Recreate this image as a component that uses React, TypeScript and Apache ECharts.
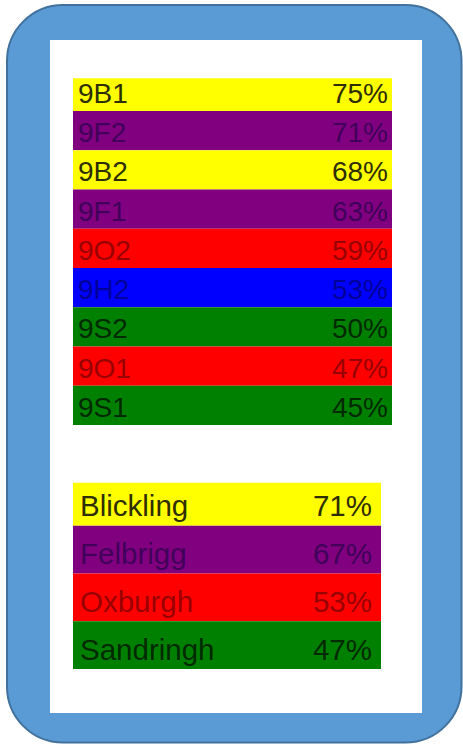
import React, { useEffect, useRef } from "react";
import * as echarts from "echarts";

// ---- data ----
const classNames = ["9B1", "9F2", "9B2", "9F1", "9O2", "9H2", "9S2", "9O1", "9S1"];
const classPercent = [75, 71, 68, 63, 59, 53, 50, 47, 45];
const classColorKeys = ["yellow", "purple", "yellow", "purple", "red", "blue", "green", "red", "green"];

const houseNames = ["Blickling", "Felbrigg", "Oxburgh", "Sandringham"];
const housePercent = [71, 67, 53, 47];
const houseColorKeys = ["yellow", "purple", "red", "green"];

// ---- styles ----
const fillColors: Record<string, string> = {
  yellow: "#FFFF00",
  purple: "#800080",
  red: "#FF0000",
  blue: "#0000FF",
  green: "#008000",
};
const textColors: Record<string, string> = {
  yellow: "#2e2e00",
  purple: "#42005a",
  red: "#9a0000",
  blue: "#00009a",
  green: "#002a00",
};

const FONT = "'Liberation Sans', Arial, sans-serif";

function tableSeries(
  gridIndex: number,
  names: string[],
  pct: number[],
  keys: string[],
  fontSize: number,
  leftPad: number,
  rightPad: number,
  dy: number,
  nameWidth: number
) {
  const fill = names.map((n, i) => ({
    name: n,
    value: 1,
    itemStyle: { color: fillColors[keys[i]] },
    label: { color: textColors[keys[i]] },
  }));
  const over = names.map((n, i) => ({
    name: n,
    value: 1,
    itemStyle: { color: "rgba(0,0,0,0)" },
    label: { color: textColors[keys[i]] },
  }));
  return [
    {
      type: "bar",
      xAxisIndex: gridIndex,
      yAxisIndex: gridIndex,
      data: fill,
      barCategoryGap: "0%",
      barGap: "-100%",
      silent: true,
      label: {
        show: true,
        position: "insideLeft",
        distance: leftPad,
        offset: [0, dy],
        formatter: "{b}",
        fontSize,
        fontFamily: FONT,
        width: nameWidth,
        overflow: "truncate",
        ellipsis: "",
      },
    },
    {
      type: "bar",
      xAxisIndex: gridIndex,
      yAxisIndex: gridIndex,
      data: over,
      barCategoryGap: "0%",
      barGap: "-100%",
      silent: true,
      label: {
        show: true,
        position: "insideRight",
        distance: rightPad,
        offset: [0, dy],
        formatter: (p: any) => pct[p.dataIndex] + "%",
        fontSize,
        fontFamily: FONT,
      },
    },
  ];
}

export default function App() {
  const ref = useRef<HTMLDivElement>(null);
  useEffect(() => {
    document.body.style.margin = "0";
    const chart = echarts.init(ref.current!, null, { renderer: "svg" });
    const hiddenAxis = {
      show: false,
      axisLine: { show: false },
      axisTick: { show: false },
      axisLabel: { show: false },
      splitLine: { show: false },
    };
    chart.setOption({
      animation: false,
      backgroundColor: "#ffffff",
      grid: [
        { left: 73, top: 71.75, width: 319, height: 353.25 },
        { left: 73, top: 478, width: 308, height: 191 },
      ],
      xAxis: [
        { type: "value", gridIndex: 0, min: 0, max: 1, ...hiddenAxis },
        { type: "value", gridIndex: 1, min: 0, max: 1, ...hiddenAxis },
      ],
      yAxis: [
        { type: "category", gridIndex: 0, inverse: true, data: classNames, ...hiddenAxis },
        { type: "category", gridIndex: 1, inverse: true, data: houseNames, ...hiddenAxis },
      ],
      graphic: [
        {
          type: "rect",
          z: -10,
          shape: { x: 7, y: 5, width: 454.5, height: 737.5, r: 56 },
          style: { fill: "#5B9BD5", stroke: "#41719C", lineWidth: 2 },
        },
        {
          type: "rect",
          z: -9,
          shape: { x: 50, y: 40, width: 372, height: 673 },
          style: { fill: "#ffffff" },
        },
        {
          type: "rect",
          z: 100,
          shape: { x: 72, y: 70, width: 322, height: 8.3 },
          style: { fill: "#ffffff" },
        },
        {
          type: "rect",
          z: 100,
          shape: { x: 72, y: 476, width: 311, height: 6.7 },
          style: { fill: "#ffffff" },
        },
      ],
      series: [
        ...tableSeries(0, classNames, classPercent, classColorKeys, 28, 5, 4, 2, 200),
        ...tableSeries(1, houseNames, housePercent, houseColorKeys, 29.5, 7, 9, 4, 143),
      ],
    });
    return () => chart.dispose();
  }, []);
  return (
    <div
      ref={ref}
      style={{ position: "absolute", left: 0, top: 0, width: 463, height: 744 }}
    />
  );
}
